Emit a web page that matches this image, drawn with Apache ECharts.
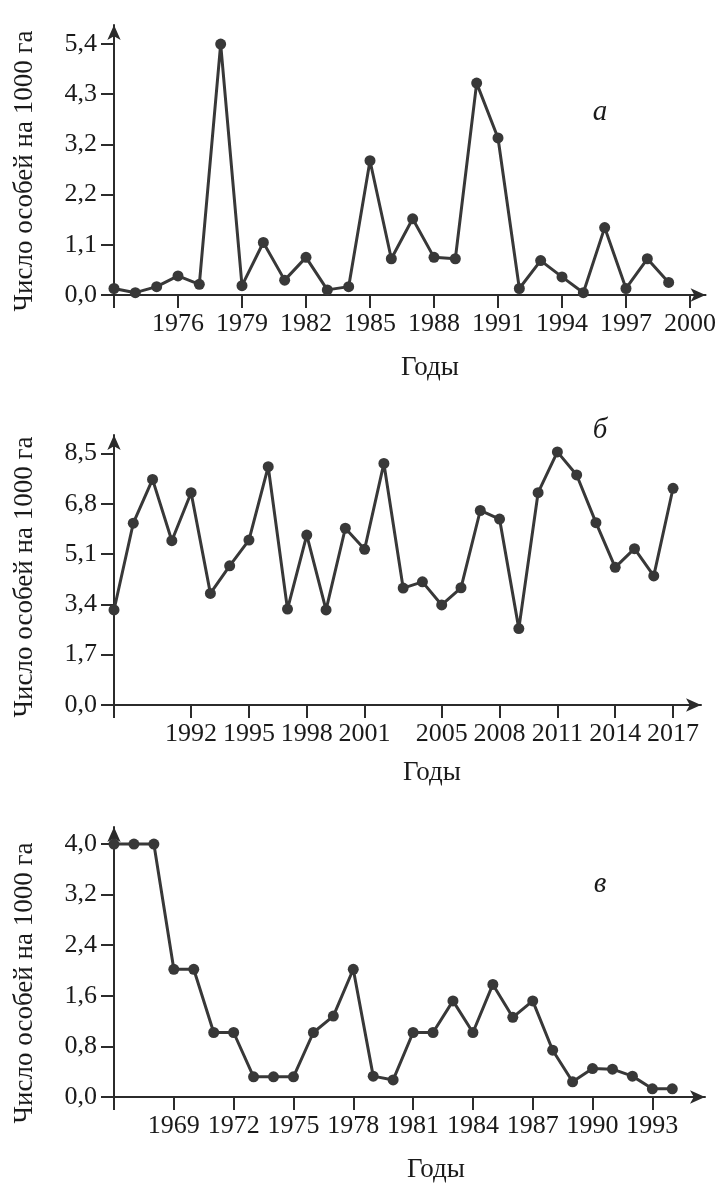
<!DOCTYPE html>
<html>
<head>
<meta charset="utf-8">
<script src="https://cdn.jsdelivr.net/npm/echarts@6/dist/echarts.min.js"></script>
<style>
  html, body { margin: 0; padding: 0; background: #fff; }
  #main { width: 719px; height: 1187px; }
</style>
</head>
<body>
<div id="main"></div>
<script>
// chart а
var yearsA = [1973,1974,1975,1976,1977,1978,1979,1980,1981,1982,1983,1984,1985,1986,1987,1988,1989,1990,1991,1992,1993,1994,1995,1996,1997,1998,1999];
var valuesA = [0.14,0.05,0.18,0.41,0.23,5.4,0.2,1.13,0.32,0.81,0.11,0.18,2.89,0.78,1.64,0.81,0.78,4.56,3.38,0.14,0.74,0.39,0.05,1.45,0.14,0.78,0.27];
var xLabelsA = [1976,1979,1982,1985,1988,1991,1994,1997,2000];
var xTicksA = [1973,1976,1979,1982,1985,1988,1991,1994,1997,2000];
var yTicksA = [0,1.08,2.16,3.24,4.32,5.4];

// chart б
var yearsB = [1988,1989,1990,1991,1992,1993,1994,1995,1996,1997,1998,1999,2000,2001,2002,2003,2004,2005,2006,2007,2008,2009,2010,2011,2012,2013,2014,2015,2016,2017];
var valuesB = [3.21,6.14,7.62,5.55,7.17,3.77,4.7,5.57,8.05,3.24,5.74,3.21,5.97,5.26,8.16,3.95,4.16,3.38,3.96,6.57,6.28,2.58,7.17,8.55,7.77,6.16,4.65,5.28,4.36,7.32];
var xLabelsB = [1992,1995,1998,2001,2005,2008,2011,2014,2017];
var xTicksB = [1988,1992,1995,1998,2001,2005,2008,2011,2014,2017];
var yTicksB = [0,1.7,3.4,5.1,6.8,8.5];

// chart в
var yearsC = [1966,1967,1968,1969,1970,1971,1972,1973,1974,1975,1976,1977,1978,1979,1980,1981,1982,1983,1984,1985,1986,1987,1988,1989,1990,1991,1992,1993,1994];
var valuesC = [4.0,4.0,4.0,2.02,2.02,1.02,1.02,0.32,0.32,0.32,1.02,1.28,2.02,0.33,0.27,1.02,1.02,1.52,1.02,1.78,1.26,1.52,0.74,0.24,0.45,0.44,0.33,0.13,0.13];
var xLabelsC = [1969,1972,1975,1978,1981,1984,1987,1990,1993];
var xTicksC = [1966,1969,1972,1975,1978,1981,1984,1987,1990,1993];
var yTicksC = [0,0.8,1.6,2.4,3.2,4.0];

var yTitle = 'Число особей на 1000 га';
var xTitle = 'Годы';

var ink = '#2b2b2b';
var serif = 'Liberation Serif';

function pairs(xs, ys) {
  var out = [];
  for (var i = 0; i < xs.length; i++) out.push([xs[i], ys[i]]);
  return out;
}

function xAxisFor(idx, min, max, labels, ticks) {
  return {
    type: 'value', gridIndex: idx, min: min, max: max,
    axisLine: { lineStyle: { color: ink, width: 2 }, symbol: ['none', 'arrow'], symbolSize: [10, 15] },
    axisTick: { customValues: ticks, length: 13, lineStyle: { color: ink, width: 2 } },
    axisLabel: {
      customValues: labels, margin: 16, color: '#1a1a1a', fontFamily: serif, fontSize: 26,
      formatter: function (v) { return String(v); }
    },
    splitLine: { show: false }
  };
}

function yAxisFor(idx, max, ticks) {
  return {
    type: 'value', gridIndex: idx, min: 0, max: max,
    axisLine: { show: true, lineStyle: { color: ink, width: 2 }, symbol: ['none', 'arrow'], symbolSize: [10, 15] },
    axisTick: { show: true, customValues: ticks, length: 13, lineStyle: { color: ink, width: 2 } },
    axisLabel: {
      customValues: ticks, margin: 17, color: '#1a1a1a', fontFamily: serif, fontSize: 26,
      formatter: function (v) { return v.toFixed(1).replace('.', ','); }
    },
    splitLine: { show: false }
  };
}

function lineSeries(idx, data) {
  return {
    type: 'line', xAxisIndex: idx, yAxisIndex: idx, data: data,
    symbol: 'circle', symbolSize: 11,
    lineStyle: { color: '#383838', width: 3 },
    itemStyle: { color: '#383838' }
  };
}

var myChart = echarts.init(document.getElementById('main'));

var titleFont = '27px "Liberation Serif"';
var letterFont = 'italic 29px "Liberation Serif"';

var option = {
  animation: false,
  backgroundColor: '#fff',
  grid: [
    { left: 114, width: 594, top: 25, height: 270 },
    { left: 114, width: 587, top: 435, height: 270 },
    { left: 114, width: 591, top: 827, height: 270 }
  ],
  xAxis: [
    xAxisFor(0, 1973, 2000.73, xLabelsA, xTicksA),
    xAxisFor(1, 1988, 2018.45, xLabelsB, xTicksB),
    xAxisFor(2, 1966, 1995.64, xLabelsC, xTicksC)
  ],
  yAxis: [
    yAxisFor(0, 5.81, yTicksA),
    yAxisFor(1, 9.12, yTicksB),
    yAxisFor(2, 4.27, yTicksC)
  ],
  series: [
    lineSeries(0, pairs(yearsA, valuesA)),
    lineSeries(1, pairs(yearsB, valuesB)),
    lineSeries(2, pairs(yearsC, valuesC))
  ],
  graphic: [
    { type: 'text', x: 25, y: 171, rotation: Math.PI / 2, style: { text: yTitle, fill: '#1a1a1a', font: titleFont, textAlign: 'center', textVerticalAlign: 'middle' } },
    { type: 'text', x: 25, y: 577, rotation: Math.PI / 2, style: { text: yTitle, fill: '#1a1a1a', font: titleFont, textAlign: 'center', textVerticalAlign: 'middle' } },
    { type: 'text', x: 25, y: 983, rotation: Math.PI / 2, style: { text: yTitle, fill: '#1a1a1a', font: titleFont, textAlign: 'center', textVerticalAlign: 'middle' } },
    { type: 'text', x: 430, y: 368, style: { text: xTitle, fill: '#1a1a1a', font: titleFont, textAlign: 'center', textVerticalAlign: 'middle' } },
    { type: 'text', x: 432, y: 773, style: { text: xTitle, fill: '#1a1a1a', font: titleFont, textAlign: 'center', textVerticalAlign: 'middle' } },
    { type: 'text', x: 436, y: 1170, style: { text: xTitle, fill: '#1a1a1a', font: titleFont, textAlign: 'center', textVerticalAlign: 'middle' } },
    { type: 'text', x: 600, y: 112, style: { text: 'а', fill: '#1a1a1a', font: letterFont, textAlign: 'center', textVerticalAlign: 'middle' } },
    { type: 'text', x: 600, y: 430, style: { text: 'б', fill: '#1a1a1a', font: letterFont, textAlign: 'center', textVerticalAlign: 'middle' } },
    { type: 'text', x: 600, y: 884, style: { text: 'в', fill: '#1a1a1a', font: letterFont, textAlign: 'center', textVerticalAlign: 'middle' } }
  ]
};
myChart.setOption(option);
</script>
</body>
</html>
